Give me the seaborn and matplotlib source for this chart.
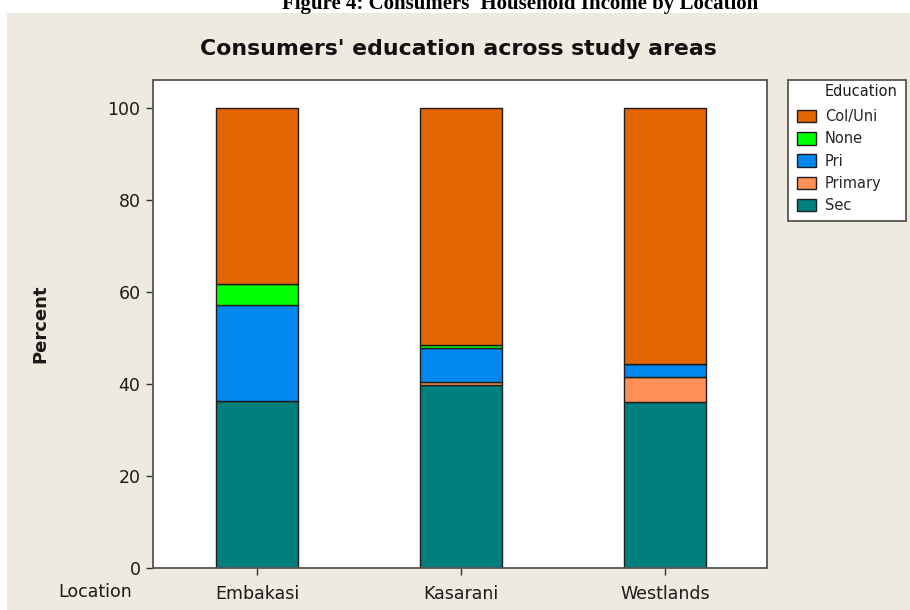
import matplotlib
matplotlib.use("Agg")
import matplotlib.pyplot as plt
from matplotlib.patches import Rectangle, Patch
import pandas as pd
import seaborn as sns

# Survey shares (%) of each education level per location
locations = ["Embakasi", "Kasarani", "Westlands"]
education_levels = ["Col/Uni", "None", "Pri", "Primary", "Sec"]
col_uni = [38.3, 51.5, 55.7]
none = [4.5, 0.7, 0.0]
pri = [20.8, 7.3, 2.7]
primary = [0.0, 0.8, 5.5]
sec = [36.4, 39.7, 36.1]
y_ticks = [0, 20, 40, 60, 80, 100]

level_colors = {
    "Col/Uni": "#E36400",
    "None": "#00FF00",
    "Pri": "#0088EE",
    "Primary": "#FF9058",
    "Sec": "#007F7F",
}

series = {"Col/Uni": col_uni, "None": none, "Pri": pri,
          "Primary": primary, "Sec": sec}
rows = []
for level in education_levels:
    for loc, val in zip(locations, series[level]):
        rows.append({"Location": loc, "Education": level, "Percent": val})
df = pd.DataFrame(rows)
df["Location"] = pd.Categorical(df["Location"], categories=locations, ordered=True)

sns.set_theme(style="white")
plt.rcParams["font.family"] = ["DejaVu Sans"]

W, H = 910, 610
BG = "#EEEAE0"
fig = plt.figure(figsize=(W / 100, H / 100), dpi=100)
fig.patch.set_facecolor("white")
fig.patches.append(Rectangle((7 / W, 0), 1, (H - 13) / H,
                             transform=fig.transFigure, facecolor=BG,
                             edgecolor="none", zorder=-10))

ax = fig.add_axes([153 / W, 42 / H, 614 / W, 488 / H])
ax.set_facecolor("white")

sns.histplot(data=df, x="Location", weights="Percent", hue="Education",
             hue_order=education_levels, multiple="stack", discrete=True,
             shrink=0.4, palette=level_colors, alpha=1.0,
             edgecolor="#1e1e1e", linewidth=1.0, ax=ax, legend=True)

ax.set_xlim(-0.51, 2.5)
ax.set_ylim(0, 106.1)
ax.set_yticks(y_ticks)
ax.set_yticklabels([str(t) for t in y_ticks])
ax.set_xticks(range(len(locations)))
ax.set_xticklabels(locations)
ax.tick_params(axis="both", which="both", direction="out", length=5, width=1,
               color="#333333", labelsize=12.5, labelcolor="#1a1a1a", pad=4,
               bottom=True, left=True)
ax.tick_params(axis="x", pad=7)
ax.set_xlabel("")
ax.set_ylabel("Percent", fontsize=13, fontweight="bold", color="#1a1a1a",
              labelpad=42)
for side in ["top", "right", "left", "bottom"]:
    ax.spines[side].set_visible(True)
    ax.spines[side].set_color("#555555")
    ax.spines[side].set_linewidth(1.3)

fig.text(95 / W, 1 - 592 / H, "Location", ha="center", va="center",
         fontsize=12.5, color="#1a1a1a")

fig.text(458 / W, 1 - 49 / H, "Consumers' education across study areas",
         ha="center", va="center", fontsize=15.8, fontweight="bold",
         color="#111111")

fig.text(520 / W, 1 - 9 / H,
         "Figure 4: Consumers' Household Income by Location",
         ha="center", va="baseline", fontsize=15, fontweight="bold",
         family=["Liberation Serif"], color="#000000")

# Legend: entries without frame, then a hand-placed title and box
if ax.get_legend() is not None:
    ax.get_legend().remove()
handles = [Patch(facecolor=level_colors[l], edgecolor="#1e1e1e", linewidth=1.0)
           for l in education_levels]
leg = fig.legend(handles, education_levels, loc="upper left",
                 bbox_to_anchor=(797 / W, 1 - 109 / H),
                 bbox_transform=fig.transFigure, fontsize=10.5,
                 frameon=False, handlelength=1.3, handleheight=0.95,
                 handletextpad=0.6, labelspacing=0.5, borderpad=0,
                 borderaxespad=0)
fig.text(825 / W, 1 - 92 / H, "Education", ha="left", va="center",
         fontsize=10.5, color="#1a1a1a")
fig.patches.append(Rectangle((788 / W, 1 - 221 / H), 118 / W, 141 / H,
                             transform=fig.transFigure, facecolor="white",
                             edgecolor="#555555", linewidth=1.3, zorder=-5))

fig.savefig("out.png", dpi=100, facecolor=fig.get_facecolor())
